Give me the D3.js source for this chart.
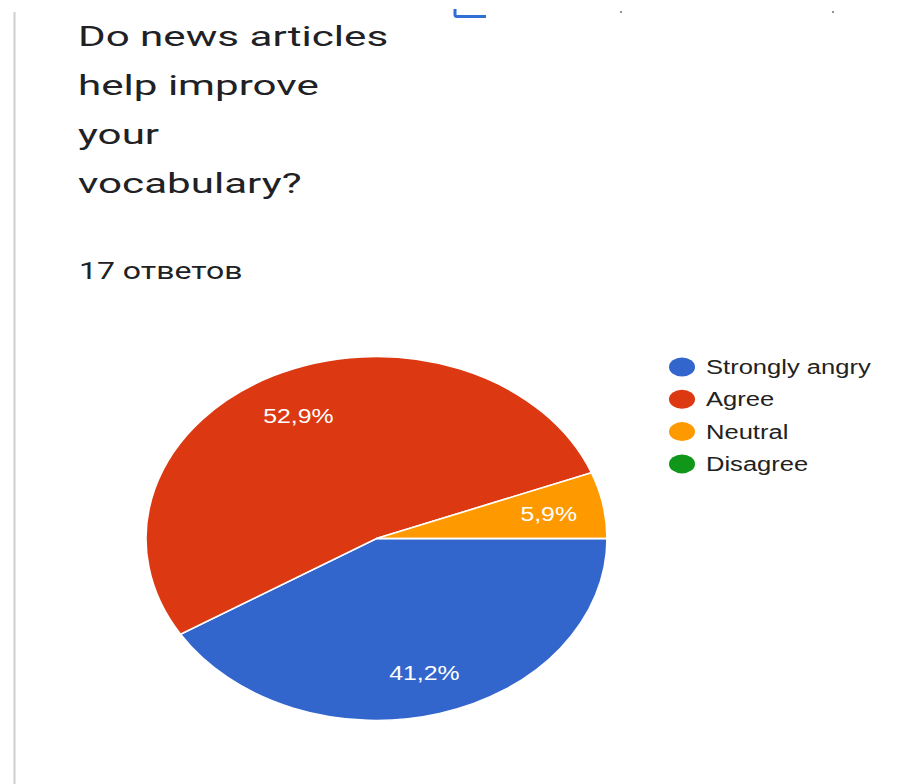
<!DOCTYPE html>
<html>
<head>
<meta charset="utf-8">
<script src="https://cdn.jsdelivr.net/npm/d3@7"></script>
<style>
  body { margin: 0; background: #fff; }
  .title { font-family: Roboto, "Noto Sans", sans-serif; fill: #202124; }
  .legend text { font-family: "Liberation Sans", Arial, sans-serif; fill: #222; }
  .slice-label { font-family: "Liberation Sans", Arial, sans-serif; fill: #fff; }
</style>
</head>
<body>
<div id="chart"></div>
<script>
var width = 910,
    height = 784;

// data (17 responses)
var titleLines = ["Do news articles", "help improve", "your", "vocabulary?"];
var subtitle = "17 ответов";
var categories = ["Strongly angry", "Agree", "Neutral", "Disagree"];
var counts = [7, 9, 1, 0];
var colors = ["#3366cc", "#dc3912", "#ff9900", "#109618"];

var total = d3.sum(counts);

var svg = d3.select("#chart").append("svg")
    .attr("width", width)
    .attr("height", height);

// the screenshot is stretched sideways, so text gets widened too
function stretch(sel, k) {
  sel.each(function() {
    var w = this.getComputedTextLength();
    d3.select(this).attr("textLength", w * k).attr("lengthAdjust", "spacingAndGlyphs");
  });
}

// card edge on the left
svg.append("line")
    .attr("x1", 14.5).attr("x2", 14.5)
    .attr("y1", 12).attr("y2", height)
    .attr("stroke", "#cfcfcf")
    .attr("stroke-width", 2);

// bits of the cropped header above
svg.append("path")
    .attr("d", "M455,9 V14.5 Q455,16.5 457,16.5 H486")
    .attr("fill", "none")
    .attr("stroke", "#2f6fd6")
    .attr("stroke-width", 3);
svg.selectAll(".speck").data([620, 832]).enter().append("rect")
    .attr("class", "speck")
    .attr("x", d => d).attr("y", 11)
    .attr("width", 2).attr("height", 2)
    .attr("fill", "#8a93a6");

svg.append("g").selectAll("text").data(titleLines)
  .enter().append("text")
    .attr("class", "title")
    .attr("x", 78)
    .attr("y", (d, i) => 46 + i * 49)
    .style("font-size", "27px")
    .text(d => d)
    .call(stretch, 1.56);

svg.append("text")
    .attr("class", "title")
    .attr("x", 79)
    .attr("y", 279)
    .style("font-size", "23px")
    .text(subtitle)
    .call(stretch, 1.39);

// pie, drawn as a circle then squashed into the ellipse of the picture
var cx = 376.5, cy = 538.5, ry = 182, sx = 230.5 / 182;

var pie = d3.pie()
    .sort(null)
    .startAngle(Math.PI / 2)
    .endAngle(Math.PI / 2 + 2 * Math.PI)
    .value(d => d);

var arc = d3.arc().innerRadius(0).outerRadius(ry);
var labelArc = d3.arc().innerRadius(ry * 0.76).outerRadius(ry * 0.76);

var arcs = pie(counts);

var pieG = svg.append("g")
    .attr("transform", "translate(" + cx + "," + cy + ") scale(" + sx + ",1)");

pieG.selectAll("path").data(arcs)
  .enter().append("path")
    .attr("d", arc)
    .attr("fill", (d, i) => colors[i])
    .attr("stroke", "#fff")
    .attr("stroke-width", 1.6)
    .attr("vector-effect", "non-scaling-stroke");

svg.append("g").selectAll("text").data(arcs.filter(d => d.value > 0))
  .enter().append("text")
    .attr("class", "slice-label")
    .attr("x", d => cx + labelArc.centroid(d)[0] * sx)
    .attr("y", d => cy + labelArc.centroid(d)[1] + 8)
    .attr("text-anchor", "middle")
    .style("font-size", "20px")
    .text(d => (d.value / total * 100).toFixed(1).replace(".", ",") + "%")
    .call(stretch, 1.24);

// legend
var legend = svg.append("g").attr("class", "legend")
  .selectAll("g").data(categories)
  .enter().append("g")
    .attr("transform", (d, i) => "translate(0," + (367 + i * 32.3) + ")");

legend.append("ellipse")
    .attr("cx", 682)
    .attr("rx", 13)
    .attr("ry", 9.5)
    .attr("fill", (d, i) => colors[i]);

legend.append("text")
    .attr("x", 706)
    .attr("y", 7)
    .style("font-size", "19.5px")
    .text(d => d)
    .call(stretch, 1.31);
</script>
</body>
</html>
